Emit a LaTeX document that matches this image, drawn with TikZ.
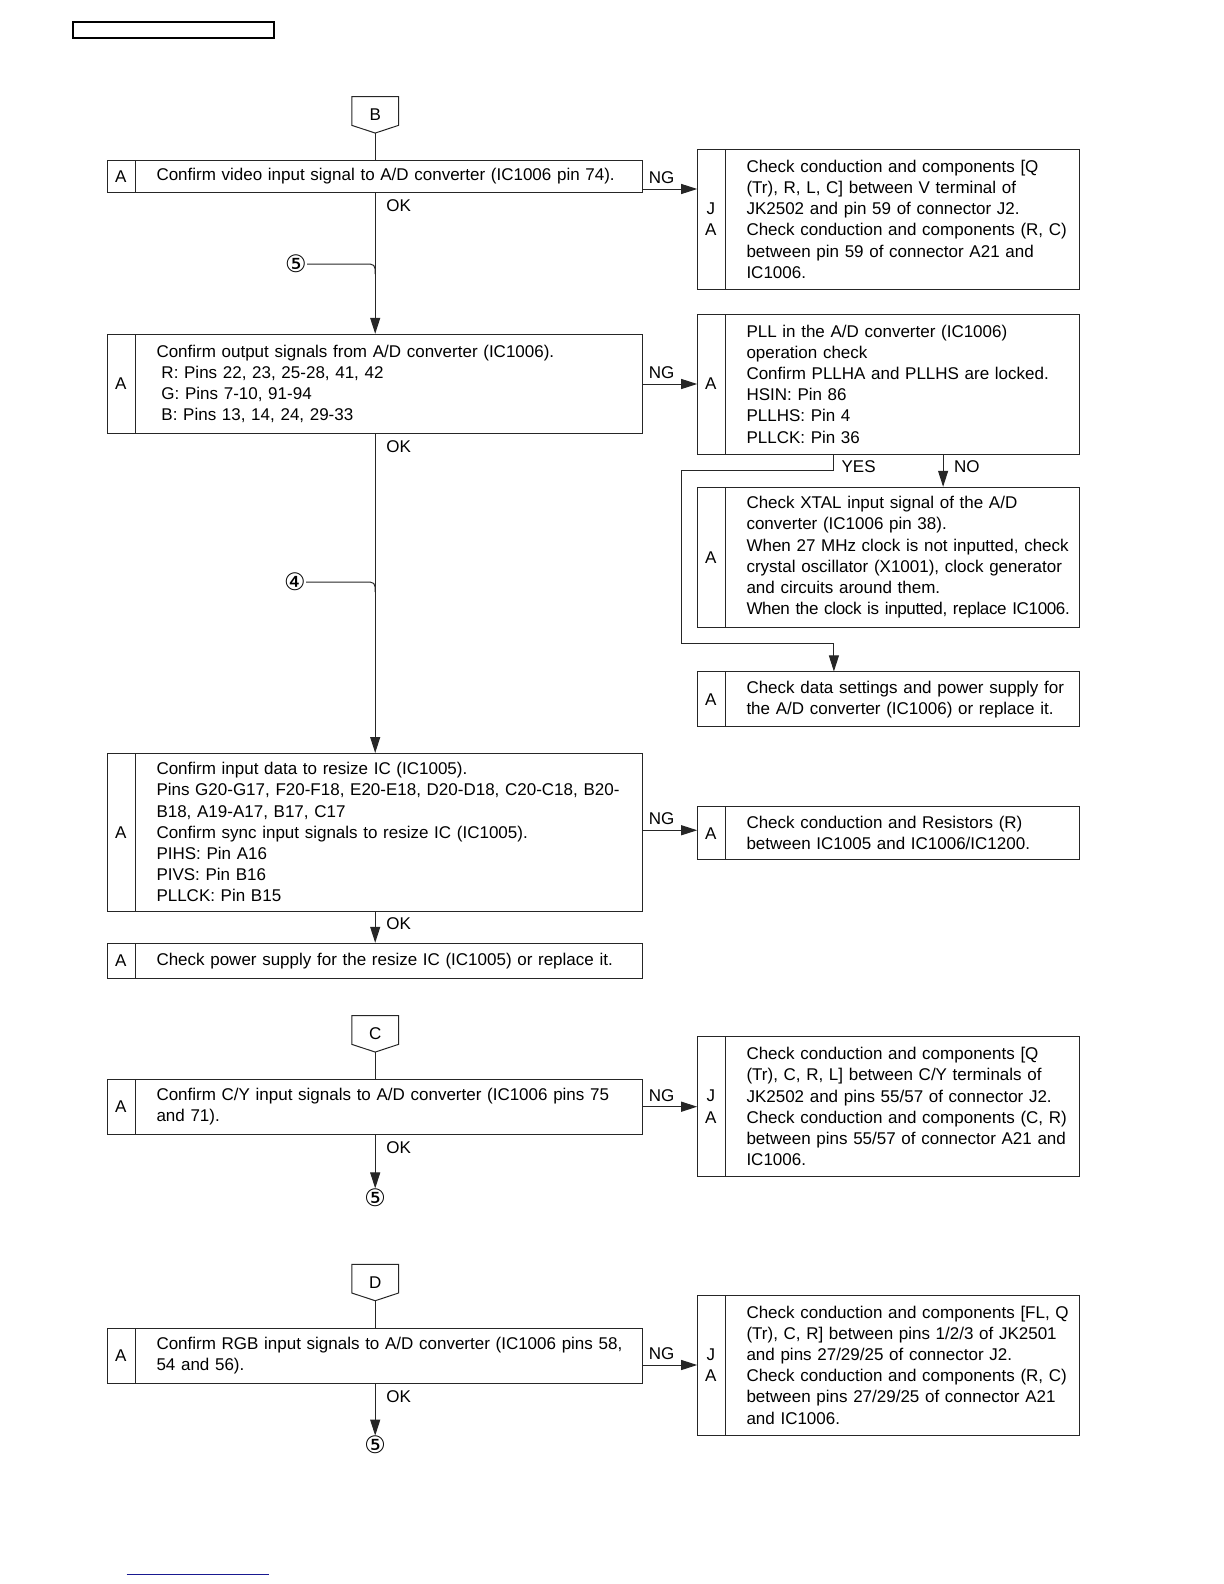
\documentclass[tikz,border=0pt]{standalone}
\usepackage{fontspec}
\setmainfont{Liberation Sans}
\newfontfamily\circfont{DejaVu Sans}
\usetikzlibrary{arrows.meta}
\newcommand{\flowfont}{\fontsize{8.5}{10.6}\selectfont}
\definecolor{footBlue}{RGB}{25,25,145}
\begin{document}
\begin{tikzpicture}[x=0.5pt,y=-0.5pt,
    flowBox/.style={rectangle,draw=black!85,line width=0.5pt,inner xsep=0pt,inner ysep=0pt,text width=#1,align=left,font=\flowfont,
      execute at begin node={\leftskip=24.4pt\rightskip=-20pt plus 1fil},
      path picture={\draw[black!85,line width=0.5pt] ([xshift=13.7pt]path picture bounding box.north west) -- ([xshift=13.7pt]path picture bounding box.south west);}},
    leftBox/.style={flowBox=267.5pt},
    rightBox/.style={flowBox=190.8pt},
    tagText/.style={inner sep=0pt,align=center,font=\flowfont},
    markBox/.style={rectangle,minimum width=23pt,minimum height=17.8pt,inner sep=0pt,font=\flowfont},
    circText/.style={inner sep=0pt,font=\circfont\fontsize{12}{12}\selectfont},
    okLabel/.style={anchor=north west,inner xsep=5.3pt,inner ysep=3pt,font=\flowfont},
    ngLabel/.style={anchor=south west,inner xsep=2.6pt,inner ysep=2.5pt,font=\flowfont},
    flowLine/.style={draw=black!85,line width=0.5pt},
    flowArrow/.style={flowLine,-{Triangle[length=8pt,width=5pt]}},
]
\useasboundingbox (0,0) rectangle (1224,1584);
\draw[line width=1.1pt] (73.3,21.7) rectangle (274,37.7);

\node[markBox] (markB) at (375.2,114.85) {B};
\node[markBox] (markC) at (375.2,1033.85) {C};
\node[markBox] (markD) at (375.2,1282.5) {D};
\foreach \m in {markB,markC,markD}
  \draw[flowLine] (\m.north west) -- (\m.north east) -- ([yshift=3.85pt]\m.south east) -- (\m.south) -- ([yshift=3.85pt]\m.south west) -- cycle;

\node[leftBox,minimum height=15.9pt] (cfmVideo) at (375.2,176.6) {Confirm video input signal to A/D converter (IC1006 pin 74).};
\node[leftBox,minimum height=49.5pt] (cfmOutput) at (375.2,383.8) {Confirm output signals from A/D converter (IC1006).\\
\hspace*{2.5pt}R: Pins 22, 23, 25-28, 41, 42\\
\hspace*{2.5pt}G: Pins 7-10, 91-94\\
\hspace*{2.5pt}B: Pins 13, 14, 24, 29-33};
\node[leftBox,minimum height=78.75pt] (cfmResize) at (375.2,832.25) {Confirm input data to resize IC (IC1005).\\
Pins G20-G17, F20-F18, E20-E18, D20-D18, C20-C18, B20-\\
B18, A19-A17, B17, C17\\
Confirm sync input signals to resize IC (IC1005).\\
PIHS: Pin A16\\
PIVS: Pin B16\\
PLLCK: Pin B15};
\node[leftBox,minimum height=17.7pt] (chkPower) at (375.2,961) {Check power supply for the resize IC (IC1005) or replace it.};
\node[leftBox,minimum height=27.5pt] (cfmCY) at (375.2,1106.8) {Confirm C/Y input signals to A/D converter (IC1006 pins 75\\
and 71).};
\node[leftBox,minimum height=27.5pt] (cfmRGB) at (375.2,1355.8) {Confirm RGB input signals to A/D converter (IC1006 pins 58,\\
54 and 56).};

\node[rightBox,minimum height=69.85pt] (chkVideoPath) at (888.5,219.2) {Check conduction and components [Q\\
(Tr), R, L, C] between V terminal of\\
JK2502 and pin 59 of connector J2.\\
Check conduction and components (R, C)\\
between pin 59 of connector A21 and\\
IC1006.};
\node[rightBox,minimum height=70pt] (pllCheck) at (888.5,384) {PLL in the A/D converter (IC1006)\\
operation check\\
Confirm PLLHA and PLLHS are locked.\\
HSIN: Pin 86\\
PLLHS: Pin 4\\
PLLCK: Pin 36};
\node[rightBox,minimum height=70pt] (xtalCheck) at (888.5,557.3) {Check XTAL input signal of the A/D\\
converter (IC1006 pin 38).\\
When 27 MHz clock is not inputted, check\\
crystal oscillator (X1001), clock generator\\
and circuits around them.\\
{\addfontfeatures{LetterSpace=-2}When the clock is inputted, replace IC1006.}};
\node[rightBox,minimum height=27.35pt] (dataCheck) at (888.5,699.3) {Check data settings and power supply for\\
the A/D converter (IC1006) or replace it.};
\node[rightBox,minimum height=26.65pt] (resistorCheck) at (888.5,833.3) {Check conduction and Resistors (R)\\
between IC1005 and IC1006/IC1200.};
\node[rightBox,minimum height=70pt] (chkCYPath) at (888.5,1106.7) {Check conduction and components [Q\\
(Tr), C, R, L] between C/Y terminals of\\
JK2502 and pins 55/57 of connector J2.\\
Check conduction and components (C, R)\\
between pins 55/57 of connector A21 and\\
IC1006.};
\node[rightBox,minimum height=70pt] (chkRGBPath) at (888.5,1365) {Check conduction and components [FL, Q\\
(Tr), C, R] between pins 1/2/3 of JK2501\\
and pins 27/29/25 of connector J2.\\
Check conduction and components (R, C)\\
between pins 27/29/25 of connector A21\\
and IC1006.};

\foreach \b/\t in {cfmVideo/A,cfmOutput/A,cfmResize/A,chkPower/A,cfmCY/A,cfmRGB/A,chkVideoPath/{J\\A},pllCheck/A,xtalCheck/A,dataCheck/A,resistorCheck/A,chkCYPath/{J\\A},chkRGBPath/{J\\A}}
  \node[tagText] (tag-\b) at ([xshift=6.85pt]\b.west) {\t};

\node[circText] (circFiveA) at (296,264) {⑤};
\node[circText] (circFour) at (295,582) {④};
\node[circText] (circFiveB) at (375.2,1197.8) {⑤};
\node[circText] (circFiveC) at (375.2,1445) {⑤};

\draw[flowLine] (markB.south) -- (cfmVideo.north);
\draw[flowArrow] (cfmVideo.south) node[okLabel] {OK} -- (cfmOutput.north);
\draw[flowLine,rounded corners=2.5pt] (circFiveA.east) -| ([yshift=-5pt]circFiveA.east -| cfmVideo.south);
\draw[flowArrow] ([yshift=-6.2pt]cfmVideo.east) node[ngLabel] {NG} -- ([yshift=-6.2pt]cfmVideo.east -| chkVideoPath.west);

\draw[flowArrow] (cfmOutput.south) node[okLabel] {OK} -- (cfmResize.north);
\draw[flowLine,rounded corners=2.5pt] (circFour.east) -| ([yshift=-5pt]circFour.east -| cfmOutput.south);
\draw[flowArrow] (cfmOutput.east |- pllCheck.west) node[ngLabel] {NG} -- (pllCheck.west);

\coordinate (yesTurn) at (681,470);
\coordinate (yesBack) at (833.9,643);
\draw[flowArrow] ([xshift=-27.3pt]pllCheck.south) node[okLabel,inner xsep=3.6pt] {YES} |- (yesTurn) |- (yesBack) -- ([xshift=-27.3pt]dataCheck.north);
\draw[flowArrow] ([xshift=27.3pt]pllCheck.south) node[okLabel] {NO} -- ([xshift=27.3pt]xtalCheck.north);

\draw[flowArrow] ([yshift=1pt]cfmResize.east) node[ngLabel] {NG} -- ([yshift=1pt]cfmResize.east -| resistorCheck.west);
\draw[flowArrow] (cfmResize.south) node[okLabel] {OK} -- (chkPower.north);

\draw[flowLine] (markC.south) -- (cfmCY.north);
\draw[flowArrow] (cfmCY.east |- chkCYPath.west) node[ngLabel] {NG} -- (chkCYPath.west);
\draw[flowArrow] (cfmCY.south) node[okLabel] {OK} -- (circFiveB.north);

\draw[flowLine] (markD.south) -- (cfmRGB.north);
\draw[flowArrow] (cfmRGB.east |- chkRGBPath.west) node[ngLabel] {NG} -- (chkRGBPath.west);
\draw[flowArrow] (cfmRGB.south) node[okLabel] {OK} -- (circFiveC.north);

\draw[footBlue,line width=0.8pt] (126.7,1574.3) -- (269,1574.3);
\end{tikzpicture}
\end{document}
